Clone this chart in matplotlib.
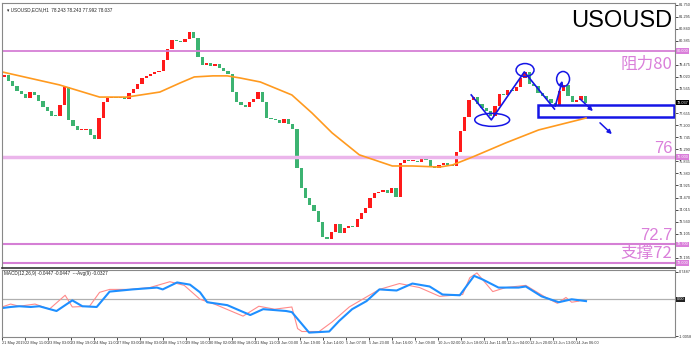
import matplotlib
matplotlib.use("Agg")
import matplotlib.pyplot as plt
from matplotlib.patches import Ellipse, Rectangle

plt.rcParams['font.family'] = ['Liberation Sans', 'Noto Sans CJK SC', 'DejaVu Sans']

# === data (H1 bars grouped by 3, x in hourly bar index) ===
first_open = 79.00
closes = [79.09, 78.88, 78.68, 78.50, 78.39, 78.23, 78.45, 78.32, 78.11, 77.89,
          77.72, 77.56, 77.55, 77.96, 78.64, 77.40, 77.17, 77.02, 77.02, 77.06,
          76.83, 76.68, 77.47, 78.08, 78.21, 78.26, 78.23, 78.28, 78.19, 78.42,
          78.57, 78.75, 78.98, 79.07, 79.13, 79.21, 79.26, 79.66, 80.08, 80.42,
          80.38, 80.34, 80.45, 80.72, 80.49, 79.77, 79.47, 79.55, 79.43, 79.51,
          79.36, 79.25, 79.13, 78.45, 78.08, 77.96, 77.89, 78.08, 78.19, 78.45,
          78.08, 77.47, 77.43, 77.40, 77.28, 77.43, 77.25, 77.06, 75.58, 74.83,
          74.45, 74.19, 73.96, 73.55, 72.98, 72.91, 73.17, 73.47, 73.13, 73.32,
          73.40, 73.36, 73.66, 73.89, 74.08, 74.45, 74.64, 74.68, 74.75, 74.64,
          74.83, 74.49, 75.77, 75.89, 75.85, 75.85, 75.81, 76.04, 75.89, 75.66,
          75.58, 75.70, 75.77, 75.70, 75.66, 76.19, 76.98, 77.51, 78.15, 78.26,
          78.00, 77.85, 77.74, 77.55, 77.92, 78.38, 78.34, 78.53, 78.49, 78.64,
          78.98, 79.21, 78.75, 78.68, 78.42, 78.30, 78.19, 78.04, 77.92, 78.49,
          78.72, 78.30, 78.08, 78.15, 78.30, 78.04]

ma_x = [0, 40, 68, 87, 110, 124, 134, 147, 157, 166, 180, 202, 216, 230, 249,
        272, 286, 305, 314, 328, 351, 374, 402, 407]
ma_y = [79.21, 78.72, 78.26, 78.26, 78.45, 78.79, 79.02, 79.06, 79.06, 78.98,
        78.83, 78.34, 77.66, 76.91, 76.08, 75.66, 75.66, 75.62, 75.70, 76.00,
        76.53, 77.02, 77.40, 77.47]

macd_x = [0, 6, 12, 20, 26, 38, 49, 56, 66, 75, 91, 108, 112, 122, 131, 138, 143,
          157, 173, 182, 198, 202, 214, 228, 235, 244, 254, 263, 275, 286, 298,
          307, 319, 329, 335, 346, 360, 365, 376, 388, 397, 407]
macd_y = [-0.24, -0.21, -0.19, -0.21, -0.19, -0.32, -0.03, -0.19, -0.21, 0.21,
          0.27, 0.32, 0.27, 0.46, 0.40, 0.19, -0.08, -0.16, -0.43, -0.27, -0.32,
          -0.35, -0.91, -0.88, -0.59, -0.27, -0.05, 0.27, 0.24, 0.43, 0.35, 0.13,
          0.11, 0.64, 0.54, 0.32, 0.32, 0.35, 0.08, -0.08, 0.00, -0.05]
sig_x = [0, 6, 12, 23, 33, 44, 49, 61, 68, 75, 89, 103, 117, 127, 138, 148, 168,
         179, 190, 202, 206, 209, 221, 230, 242, 249, 263, 277, 291, 305, 321,
         326, 331, 342, 351, 365, 379, 387, 393, 397, 402]
sig_y = [-0.21, -0.13, -0.19, -0.13, -0.27, 0.11, -0.21, -0.19, 0.19, 0.27, 0.27,
         0.32, 0.48, 0.38, 0.00, -0.13, -0.46, -0.19, -0.27, -0.21, -0.80, -0.88,
         -0.88, -0.62, -0.21, -0.05, 0.27, 0.43, 0.32, 0.08, 0.13, 0.59, 0.72,
         0.21, 0.32, 0.38, 0.05, -0.11, 0.05, -0.08, -0.05]

levels = [80.0, 76.0, 72.7, 72.0]
level_text = ['阻力80', '76', '72.7', '支撑72']
last_price = 78.037
price_ticks = [81.750, 81.295, 80.840, 80.385, 79.475, 79.020, 78.565,
               77.655, 77.200, 76.745, 76.290, 75.835, 75.380, 74.925,
               74.470, 74.015, 73.560, 73.105, 72.195]
date_labels = ['21 May 2019', '22 May 11:00', '23 May 03:00', '23 May 19:00',
               '24 May 11:00', '27 May 03:00', '28 May 03:00', '28 May 17:00',
               '29 May 10:00', '30 May 02:00', '30 May 18:00', '31 May 11:00',
               '3 Jun 03:00', '3 Jun 19:00', '4 Jun 14:00', '5 Jun 07:00',
               '5 Jun 23:00', '6 Jun 16:00', '7 Jun 09:00', '10 Jun 02:00',
               '10 Jun 18:00', '11 Jun 11:00', '12 Jun 04:00', '12 Jun 20:00',
               '13 Jun 13:00', '14 Jun 06:00']

fig = plt.figure(figsize=(6.92, 3.47), dpi=100)
ax = fig.add_axes([2/692, 1-268/347, 673/692, 265/347])
ax2 = fig.add_axes([2/692, 1-337/347, 673/692, 67/347])

# === candles ===
opens = [first_open] + closes[:-1]
centers = [3*k + 1.5 for k in range(len(closes))]
bottoms = [min(o, c) for o, c in zip(opens, closes)]
heights = [max(abs(c - o), 0.03) for o, c in zip(opens, closes)]
cols = ['#FF1A1A' if c >= o else '#3CB371' for o, c in zip(opens, closes)]
ax.bar(centers, heights, bottom=bottoms, width=2.3, color=cols, linewidth=0)

ax.plot(ma_x, ma_y, color='#FF9A1F', lw=1.2)

lv_colors = ['#D57FD5', '#EBB5EB', '#D57FD5', '#D57FD5']
lv_width = [1.3, 2.5, 1.5, 1.5]
for lv, c, w in zip(levels, lv_colors, lv_width):
    ax.axhline(lv, color=c, lw=w, zorder=1)

tc = '#DA7FDA'
cjk = ['Noto Sans CJK SC', 'DejaVu Sans']
ax.text(467, 80 - 0.17, level_text[0], ha='right', va='top', fontsize=12, color=tc, family=cjk)
ax.text(467, 76 + 0.04, level_text[1], ha='right', va='bottom', fontsize=12, color=tc)
ax.text(467, 72.7 + 0.04, level_text[2], ha='right', va='bottom', fontsize=12, color=tc)
ax.text(467, 72.0 + 0.04, level_text[3], ha='right', va='bottom', fontsize=12, color=tc, family=cjk)

ax.text(467, 81.55, 'USOUSD', ha='right', va='top', fontsize=17, color='black')

# === annotations ===
blue = '#1515E6'
ax.plot([327, 341, 364, 385], [78.34, 77.40, 79.21, 77.81], color=blue, lw=1.2)
ax.annotate('', xy=(391, 78.98), xytext=(385, 77.81),
            arrowprops=dict(arrowstyle='-|>', color=blue, lw=1.2, mutation_scale=6))
ax.add_patch(Ellipse((341.6, 77.40), 24.3, 0.49, fill=False, ec=blue, lw=1.1))
ax.add_patch(Ellipse((364.5, 79.28), 12.5, 0.49, fill=False, ec=blue, lw=1.1))
ax.add_patch(Ellipse((391, 78.94), 9, 0.57, fill=False, ec=blue, lw=1.1))
ax.add_patch(Rectangle((373.6, 77.51), 95, 0.45, fill=False, ec=blue, lw=1.8))
ax.annotate('', xy=(413.2, 77.66), xytext=(401.4, 78.26),
            arrowprops=dict(arrowstyle='-|>', color=blue, lw=1.1, mutation_scale=6))
ax.annotate('', xy=(426.4, 76.79), xytext=(415.3, 77.36),
            arrowprops=dict(arrowstyle='-|>', color=blue, lw=1.1, mutation_scale=6))

ax.set_xlim(0, 469)
ax.set_ylim(71.81, 81.81)
ax.set_xticks([])
ax.yaxis.tick_right()
ax.set_yticks(price_ticks)
ax.set_yticklabels(['%.3f' % t for t in price_ticks], fontsize=2.8, color='#333333')
ax.tick_params(axis='y', length=2, width=0.5, pad=1)

# right-axis price boxes
for lv in levels:
    ax.text(1.003, lv, '%.3f' % lv, transform=ax.get_yaxis_transform(), fontsize=2.8,
            color='white', va='center', ha='left',
            bbox=dict(boxstyle='square,pad=0.15', fc='#DA7FDA', ec='none'))
ax.text(1.003, closes[-1], '%.3f' % last_price, transform=ax.get_yaxis_transform(),
        fontsize=2.8, color='white', va='center', ha='left',
        bbox=dict(boxstyle='square,pad=0.15', fc='black', ec='none'))

ax.text(0.008, 0.985, '\u25be USOUSD,ECN,H1  78.243 78.243 77.992 78.037',
        transform=ax.transAxes, fontsize=3.3, va='top', color='#222222')

# === MACD ===
ax2.axhline(0, color='#B0B0B0', lw=0.9)
ax2.plot(sig_x, sig_y, color='#FF8A8A', lw=0.8)
ax2.plot(macd_x, macd_y, color='#1E8FFF', lw=1.5)
ax2.set_xlim(0, 469)
ax2.set_ylim(-1.03, 0.80)
ax2.yaxis.tick_right()
ax2.set_yticks([0.7487, -1.0058])
ax2.set_yticklabels(['0.7487', '-1.0058'], fontsize=2.8, color='#333333')
ax2.tick_params(axis='y', length=2, width=0.5, pad=1)
ax2.text(1.003, 0, '0.00', transform=ax2.get_yaxis_transform(), fontsize=2.8,
         color='white', va='center', ha='left',
         bbox=dict(boxstyle='square,pad=0.15', fc='#222222', ec='none'))
ax2.set_xticks([16*i for i in range(len(date_labels))])
ax2.set_xticklabels(date_labels, fontsize=2.8, ha='left', color='#333333')
ax2.tick_params(axis='x', length=2, width=0.5, pad=1)
ax2.text(0.003, 0.98, 'MACD(12,26,9) -0.0447 -0.0447  ---Avg(9) -0.0327',
         transform=ax2.transAxes, fontsize=3.3, va='top', color='#222222')

for a in (ax, ax2):
    for s in a.spines.values():
        s.set_color('#888888')
        s.set_linewidth(0.8)
ax.spines['bottom'].set_color('#333333')
ax.spines['bottom'].set_linewidth(1.2)

fig.savefig('out.png', dpi=100, facecolor='white')
